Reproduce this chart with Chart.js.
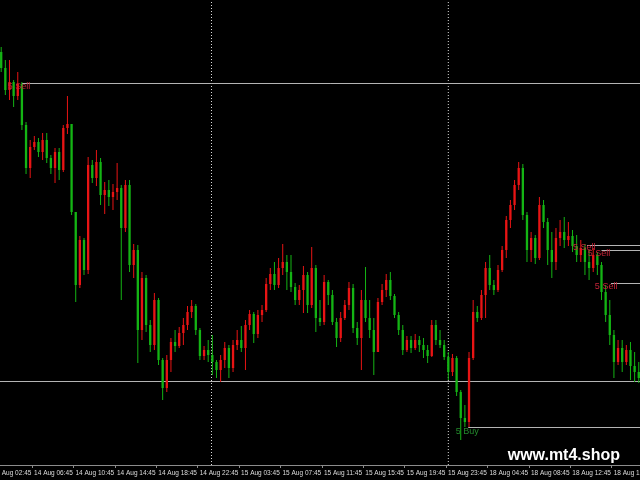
<!DOCTYPE html>
<html>
<head>
<meta charset="utf-8">
<script src="https://cdn.jsdelivr.net/npm/chart.js@4"></script>
<style>
  html, body { margin: 0; padding: 0; background: #000; }
  canvas { display: block; background: #000; }
</style>
</head>
<body>
<canvas id="chart" width="640" height="480"></canvas>
<script>
// candle prices (points), one entry per bar; open of a bar = previous close
const firstOpen = 448;
const closes = [
  432, 410, 418, 404, 416, 375, 332, 353, 358, 348,
  360, 342, 332, 348, 330, 372, 376, 288, 215, 260,
  230, 335, 322, 338, 305, 310, 303, 308, 312, 272,
  315, 235, 250, 170, 222, 175, 155, 200, 140, 112,
  140, 158, 154, 167, 175, 188, 194, 170, 144, 150,
  145, 138, 130, 140, 152, 132, 155, 160, 152, 175,
  186, 166, 185, 190, 216, 226, 215, 232, 238, 228,
  213, 200, 210, 225, 195, 232, 182, 178, 218, 205,
  178, 162, 182, 195, 212, 172, 162, 200, 182, 170,
  148, 198, 210, 220, 204, 185, 170, 150, 160, 152,
  160, 155, 150, 144, 175, 160, 155, 143, 128, 142,
  108, 82, 78, 142, 188, 182, 205, 232, 215, 210,
  230, 250, 280, 295, 315, 332, 285, 250, 262, 242,
  295, 278, 250, 238, 262, 268, 260, 264, 254, 245,
  252, 238, 232, 245, 235, 208, 185, 165, 138, 152,
  138, 150, 134, 128, 122
];
const highs = [
  453, 440, 440, 420, 428, 418, 378, 360, 364, 362,
  367, 367, 345, 352, 352, 375, 404, 376, 288, 264,
  262, 343, 340, 350, 342, 318, 320, 316, 337, 315,
  320, 320, 256, 255, 228, 225, 180, 207, 202, 142,
  145, 162, 170, 173, 182, 194, 200, 196, 172, 154,
  160, 165, 140, 145, 158, 155, 160, 170, 174, 180,
  190, 188, 190, 195, 222, 232, 238, 242, 256, 245,
  245, 217, 215, 234, 228, 253, 235, 200, 225, 220,
  210, 182, 188, 200, 218, 216, 178, 210, 233, 200,
  182, 202, 216, 226, 228, 206, 188, 175, 164, 164,
  166, 164, 162, 155, 180, 180, 170, 160, 148, 146,
  144, 110, 95, 148, 200, 194, 210, 238, 245, 220,
  235, 254, 284, 300, 320, 338, 336, 288, 268, 265,
  303, 300, 282, 268, 272, 280, 283, 278, 270, 265,
  260, 256, 250, 252, 248, 238, 215, 200, 170, 160,
  160, 155, 158, 148, 138
];
const lows = [
  428, 405, 400, 393, 400, 370, 326, 322, 350, 343,
  340, 337, 326, 317, 320, 328, 366, 285, 198, 212,
  225, 226, 317, 314, 295, 286, 294, 290, 300, 200,
  268, 228, 222, 137, 160, 168, 148, 150, 135, 100,
  108, 128, 148, 152, 155, 170, 182, 165, 140, 140,
  138, 125, 122, 118, 132, 122, 128, 150, 148, 130,
  170, 157, 162, 178, 188, 210, 210, 212, 225, 210,
  208, 195, 195, 187, 187, 192, 168, 174, 175, 195,
  175, 153, 158, 180, 190, 167, 155, 130, 178, 162,
  125, 148, 195, 203, 200, 182, 165, 145, 148, 147,
  150, 148, 142, 137, 143, 155, 152, 140, 120, 124,
  104, 60, 73, 73, 140, 178, 180, 182, 210, 205,
  208, 228, 242, 272, 290, 310, 280, 238, 238, 236,
  240, 272, 235, 222, 230, 254, 252, 254, 248, 238,
  238, 225, 220, 228, 225, 200, 178, 155, 122, 135,
  128, 135, 120, 118, 117
];

// time axis labels, placed at bar positions
const tickBars = [-2.49, 7.51, 17.51, 27.51, 37.51, 47.51, 57.51, 67.51, 77.51, 87.51, 97.51, 107.51, 117.51, 127.51, 137.51, 147.51];
const tickLabels = [
  '14 Aug 02:45', '14 Aug 06:45', '14 Aug 10:45', '14 Aug 14:45', '14 Aug 18:45', '14 Aug 22:45',
  '15 Aug 03:45', '15 Aug 07:45', '15 Aug 11:45', '15 Aug 15:45', '15 Aug 19:45', '15 Aug 23:45',
  '18 Aug 04:45', '18 Aug 08:45', '18 Aug 12:45', '18 Aug 16:45'
];

// day separators and order levels
const separatorBars = [50.8, 108.0];
const levelPrices = [416.5, 118.5, 72.5, 254.5, 249.5, 216.5];
const levelStartBars = [5, -0.29, 112.8, 141.5, 145, 147.3];

const signalTexts = ['5 Sell', '5 Sell', '5 Sell', '5 Sell', '5 Buy'];
const signalBars = [1.6, 138.1, 141.7, 143.4, 109.8];
const signalPrices = [413, 252, 246, 213, 68];

const X_MIN = -0.29, X_MAX = 154.3, Y_MIN = 35, Y_MAX = 500;
const UP = '#e81414', DOWN = '#14b414';

const opens = closes.map((c, i) => i === 0 ? firstOpen : closes[i - 1]);
const barColors = closes.map((c, i) => c >= opens[i] ? UP : DOWN);

const datasets = [];

datasets.push({
  type: 'bar',
  label: 'bodies',
  data: closes.map((c, i) => ({ x: i, y: [opens[i], c] })),
  backgroundColor: barColors,
  grouped: false,
  barPercentage: 0.7,
  maxBarThickness: 3,
  minBarLength: 1,
  borderWidth: 0,
  order: 0
});
datasets.push({
  type: 'bar',
  label: 'wicks',
  data: closes.map((c, i) => ({ x: i, y: [lows[i], highs[i]] })),
  backgroundColor: barColors,
  grouped: false,
  maxBarThickness: 1,
  borderWidth: 0,
  order: 1
});

levelPrices.forEach((p, i) => {
  datasets.push({
    type: 'line',
    label: 'level' + i,
    data: [{ x: levelStartBars[i], y: p }, { x: X_MAX, y: p }],
    borderColor: '#b4b4b4',
    borderWidth: 1,
    pointRadius: 0,
    order: 3
  });
});

separatorBars.forEach((b, i) => {
  datasets.push({
    type: 'line',
    label: 'sep' + i,
    data: [{ x: b, y: Y_MIN }, { x: b, y: Y_MAX }],
    borderColor: '#d8d8d8',
    borderWidth: 1,
    borderDash: [1, 2],
    pointRadius: 0,
    order: 4
  });
});

const signalPlugin = {
  id: 'signals',
  afterDatasetsDraw(chart) {
    const { ctx, scales: { x, y } } = chart;
    ctx.save();
    ctx.font = '9px "Liberation Sans", Arial, sans-serif';
    ctx.textBaseline = 'middle';
    ctx.textAlign = 'left';
    signalTexts.forEach((t, i) => {
      ctx.fillStyle = t.indexOf('Buy') >= 0 ? '#238a2c' : '#c42438';
      ctx.fillText(t, x.getPixelForValue(signalBars[i]), y.getPixelForValue(signalPrices[i]));
    });
    ctx.font = 'bold 16px "Liberation Sans", Arial, sans-serif';
    ctx.fillStyle = '#ffffff';
    ctx.textAlign = 'right';
    ctx.fillText('www.mt4.shop', chart.chartArea.right - 20, chart.chartArea.bottom - 9);
    ctx.restore();
  }
};

const ctx = document.getElementById('chart').getContext('2d');
const candleChart = new Chart(ctx, {
  type: 'bar',
  data: { datasets: datasets },
  options: {
    responsive: false,
    animation: false,
    layout: { padding: 0 },
    plugins: {
      legend: { display: false },
      tooltip: { enabled: false }
    },
    scales: {
      x: {
        type: 'linear',
        min: X_MIN,
        max: X_MAX,
        offset: false,
        afterBuildTicks: scale => {
          scale.ticks = tickBars.map(v => ({ value: v }));
        },
        afterFit: scale => {
          scale.height = 15;
          // labels may run past the edges, like the terminal does
          scale.paddingLeft = 0;
          scale.paddingRight = 0;
        },
        grid: {
          offset: false,
          drawOnChartArea: false,
          drawTicks: true,
          tickLength: 3,
          color: '#8c8c8c'
        },
        border: { color: '#8c8c8c', width: 1 },
        ticks: {
          autoSkip: false,
          maxRotation: 0,
          align: 'start',
          padding: 1,
          color: '#dcdcdc',
          font: { family: '"Liberation Sans", Arial, sans-serif', size: 6.5 },
          callback: (value, index) => ' ' + tickLabels[index]
        }
      },
      y: {
        display: false,
        min: Y_MIN,
        max: Y_MAX
      }
    }
  },
  plugins: [signalPlugin]
});
</script>
</body>
</html>
